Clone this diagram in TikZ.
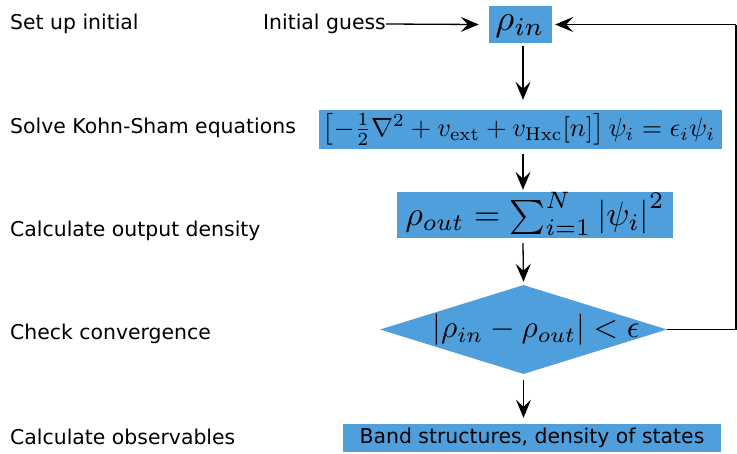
\documentclass[tikz,border=0pt]{standalone}
\usepackage{graphicx}
\usepackage[no-math]{fontspec}
\setmainfont{DejaVu Sans}
\usetikzlibrary{arrows.meta,shapes.geometric}
\definecolor{boxblue}{RGB}{80,159,221}
\begin{document}
\begin{tikzpicture}[x=1pt,y=-1pt,
  lbl/.style={anchor=west,inner sep=0pt,font=\fontsize{20.4}{24}\selectfont},
  box/.style={fill=boxblue,inner sep=0pt},
  arr/.style={-{Stealth[length=18pt,width=15pt,inset=7pt]},line width=1.3pt},
  ln/.style={line width=1.3pt}]
\useasboundingbox (0,0) rectangle (737,453);
% left labels
\node[lbl] (l1) at (10,24) {Set up initial};
\node[lbl] (l2) at (10,128) {Solve Kohn-Sham equations};
\node[lbl] (l3) at (10,231) {Calculate output density};
\node[lbl] (l4) at (10,334) {Check convergence};
\node[lbl] (l5) at (10,437) {Calculate observables};
% flow
\node[lbl] (ig) at (263,24) {Initial guess};
\node[box,minimum width=63pt,minimum height=37pt] (rin) at (520.5,24.5) {};
\node[inner sep=0pt] (rint) at (520,26) {\scalebox{3.65}{$\rho_{in}$}};
\node[box,minimum width=403pt,minimum height=39pt] (ks) at (520.5,129.5) {};
\node[inner sep=0pt] (kst) at (519,129.5) {\scalebox{2.64}{$\left[-\frac{1}{2}\nabla^2+v_{\mathrm{ext}}+v_{\mathrm{Hxc}}[n]\right]\psi_i=\epsilon_i\psi_i$}};
\node[box,minimum width=276pt,minimum height=46pt] (rout) at (535,215) {};
\node[inner sep=0pt] (routt) at (535,214) {\scalebox{3.4}{$\rho_{out}=\sum_{i=1}^{N}\left|\psi_i\right|^2$}};
\node[box,diamond,aspect=3.22,minimum width=287pt,minimum height=89pt] (conv) at (523.5,329.5) {};
\node[inner sep=0pt] (convt) at (536,330) {\scalebox{3.14}{$\left|\rho_{in}-\rho_{out}\right|<\epsilon$}};
\node[box,minimum width=378pt,minimum height=28pt] (band) at (532,438) {\fontsize{20.4}{24}\selectfont Band structures, density of states};
\coordinate (c1) at (736,329.5);
\coordinate (c2) at (736,24.5);
% connectors
\draw[arr] (ig.east) -- ([xshift=-10pt]rin.west);
\draw[arr] ([xshift=2.5pt,yshift=-3pt]rin.south) -- ([xshift=2.5pt,yshift=10pt]ks.north);
\draw[arr] ([xshift=2.5pt,yshift=-5pt]ks.south) -- ([xshift=2.5pt,yshift=2pt]ks.south |- rout.north);
\draw[arr] ([xshift=-12pt,yshift=-5pt]rout.south) -- ([yshift=3pt]conv.north);
\draw[arr] ([yshift=-6pt]conv.south) -- ([yshift=6pt]conv.south |- band.north);
\draw[ln] (conv.east) -- (c1) -- (c2);
\draw[arr] (c2) -- ([xshift=3pt]rin.east);
\end{tikzpicture}
\end{document}
